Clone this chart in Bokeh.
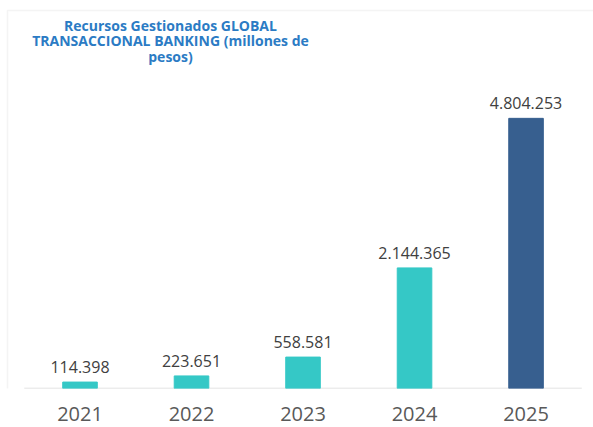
from bokeh.plotting import figure
from bokeh.models import Range1d, Label, BoxAnnotation, ColumnDataSource, FixedTicker
from bokeh.core.properties import value
from bokeh.embed import file_html
from bokeh.resources import INLINE

years = ["2021", "2022", "2023", "2024", "2025"]
values = [114398, 223651, 558581, 2144365, 4804253]
labels = ["114.398", "223.651", "558.581", "2.144.365", "4.804.253"]
colors = ["#35C8C6", "#35C8C6", "#35C8C6", "#35C8C6", "#375F8F"]
title_text = "Recursos Gestionados GLOBAL\nTRANSACCIONAL BANKING (millones de\npesos)"

idx = list(range(len(years)))
src = ColumnDataSource(dict(x=idx, top=values, label=labels, color=colors))

p = figure(width=593, height=427, x_range=Range1d(-0.713, 4.605),
           y_range=Range1d(0, 6_900_000), output_backend="svg",
           toolbar_location=None, y_axis_location=None,
           min_border_left=0, min_border_right=0, min_border_top=0,
           min_border_bottom=39)
p.outline_line_color = None
p.xgrid.grid_line_color = None
p.ygrid.grid_line_color = None
p.background_fill_color = "white"
p.border_fill_color = "white"

frame = BoxAnnotation(left=7, right=700, top=10, bottom=600,
                      left_units="canvas", right_units="canvas",
                      top_units="canvas", bottom_units="canvas",
                      fill_color=None, line_color="#DCDCDC", line_width=1.5)
p.add_layout(frame)

# baseline (category axis line)
p.segment(x0=[idx[0] - 0.5], y0=[0], x1=[idx[-1] + 0.5], y1=[0],
          line_color="#D9D9D9", line_width=1.5)

p.vbar(x="x", top="top", width=0.31, color="color", source=src)
p.text(x="x", y="top", text="label", source=src, text_align="center",
       text_baseline="alphabetic", y_offset=-15, text_font=value("Open Sans"),
       text_font_size="16px", text_color="#404040")

ax = p.xaxis[0]
ax.ticker = FixedTicker(ticks=idx)
ax.major_label_overrides = {i: y for i, y in zip(idx, years)}
ax.axis_line_color = None
ax.major_tick_line_color = None
ax.minor_tick_line_color = None
ax.major_tick_out = 0
ax.major_label_standoff = 18
ax.major_label_text_font = "Open Sans"
ax.major_label_text_font_size = "20px"
ax.major_label_text_color = "#595959"

p.add_layout(Label(x=170, y=15, x_units="canvas", y_units="canvas",
                   text=title_text, text_align="center", text_baseline="top",
                   text_font="Open Sans", text_font_style="bold",
                   text_font_size="14px", text_color="#2B7BC4",
                   text_line_height=0.84))

open("out.html", "w").write(file_html(p, INLINE))
